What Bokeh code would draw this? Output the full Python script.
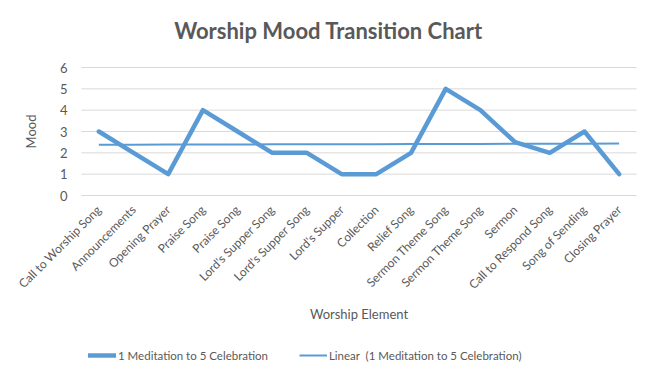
import numpy as np
from bokeh.plotting import figure
from bokeh.models import ColumnDataSource, FixedTicker, Legend, LegendItem, Label, Range1d
from bokeh.embed import file_html
from bokeh.resources import INLINE

categories = ["Call to Worship Song", "Announcements", "Opening Prayer", "Praise Song",
              "Praise Song", "Lord's Supper Song", "Lord's Supper Song", "Lord's Supper",
              "Collection", "Relief Song", "Sermon Theme Song", "Sermon Theme Song",
              "Sermon", "Call to Respond Song", "Song of Sending", "Closing Prayer"]
mood = [3, 2, 1, 4, 3, 2, 2, 1, 1, 2, 5, 4, 2.5, 2, 3, 1]
y_ticks = [0, 1, 2, 3, 4, 5, 6]

n = len(categories)
x = list(range(1, n + 1))
slope, intercept = np.polyfit(x, mood, 1)
trend = [slope * xi + intercept for xi in x]

FONT = "Lato"
GRAY = "#595959"
BLUE = "#5B9BD5"
GRID = "#d9d9d9"

# layout: plot area in canvas pixels
W, H = 640, 367
PL, PR, PT, PB = 81, 636, 67, 195
ymin, ymax = min(y_ticks), max(y_ticks)
sx = (PR - PL) / n
sy = (PB - PT) / (ymax - ymin)
x0 = 0.5 - PL / sx
x1 = n + 0.5 + (W - PR) / sx
y1 = ymax + PT / sy
y0 = ymin - (H - PB) / sy

def px_x(px):
    return x0 + px / sx

def px_y(py):
    return y1 - py / sy

p = figure(width=W, height=H, output_backend="svg", toolbar_location=None,
           x_range=Range1d(x0, x1), y_range=Range1d(y0, y1),
           min_border=0, min_border_left=0, min_border_right=0,
           min_border_top=0, min_border_bottom=0)
p.title = None
p.outline_line_color = None
p.background_fill_color = "white"
p.border_fill_color = "white"
p.xgrid.visible = False
p.ygrid.visible = False

# horizontal gridlines
p.segment(x0=[0.5] * len(y_ticks), y0=y_ticks, x1=[n + 0.5] * len(y_ticks), y1=y_ticks,
          line_color=GRID, line_width=1)

src = ColumnDataSource(dict(x=x, mood=mood, trend=trend))
r1 = p.line("x", "mood", source=src, line_color=BLUE, line_width=4.5, line_join="round", line_cap="round")
r2 = p.line("x", "trend", source=src, line_color=BLUE, line_width=2)

p.yaxis.fixed_location = 0.5
p.yaxis.ticker = FixedTicker(ticks=y_ticks)
p.yaxis.axis_line_color = None
p.yaxis.major_tick_line_color = None
p.yaxis.minor_tick_line_color = None
p.yaxis.major_label_text_font = FONT
p.yaxis.major_label_text_font_size = "13px"
p.yaxis.major_label_text_color = GRAY
p.yaxis.major_label_standoff = 8

p.xaxis.fixed_location = 0
p.xaxis.ticker = FixedTicker(ticks=x)
p.xaxis.major_label_overrides = {xi: c for xi, c in zip(x, categories)}
p.xaxis.major_label_orientation = np.pi / 4
p.xaxis.axis_line_color = None
p.xaxis.major_tick_line_color = None
p.xaxis.minor_tick_line_color = None
p.xaxis.major_label_text_font = FONT
p.xaxis.major_label_text_font_size = "12px"
p.xaxis.major_label_text_color = GRAY
p.xaxis.major_label_standoff = 6

p.add_layout(Label(x=px_x(328), y=px_y(30), text="Worship Mood Transition Chart",
                   text_font=FONT, text_font_size="22px", text_font_style="bold",
                   text_color=GRAY, text_align="center", text_baseline="middle"))
p.add_layout(Label(x=px_x(30), y=(ymin + ymax) / 2, text="Mood", angle=np.pi / 2,
                   text_font=FONT, text_font_size="13px", text_color=GRAY,
                   text_align="center", text_baseline="middle"))
p.add_layout(Label(x=(n + 1) / 2, y=px_y(313), text="Worship Element",
                   text_font=FONT, text_font_size="13px", text_color=GRAY,
                   text_align="center", text_baseline="middle"))

legend = Legend(items=[LegendItem(label="1 Meditation to 5 Celebration", renderers=[r1]),
                       LegendItem(label="Linear  (1 Meditation to 5 Celebration)", renderers=[r2])],
                orientation="horizontal", location=(88, 2), margin=0,
                label_text_font=FONT, label_text_font_size="11.5px", label_text_color=GRAY,
                glyph_width=28, label_standoff=2, spacing=31, border_line_color=None,
                background_fill_alpha=0, padding=0)
p.add_layout(legend, "center")

open("out.html", "w").write(file_html(p, INLINE))
